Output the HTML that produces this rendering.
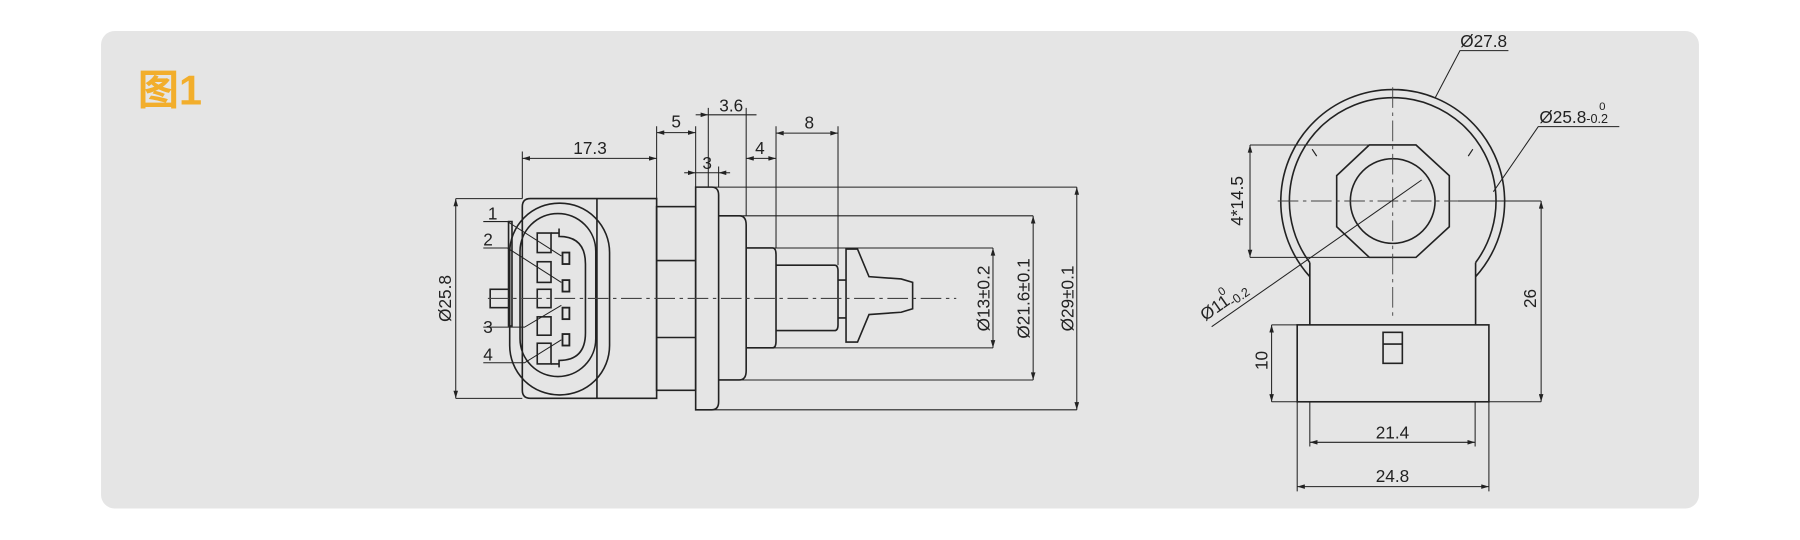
<!DOCTYPE html>
<html><head><meta charset="utf-8"><style>
html,body{margin:0;padding:0;background:#fff;}
svg{display:block;}
text{font-family:"Liberation Sans","DejaVu Sans",sans-serif;fill:#222;}
</style></head><body>
<svg width="1800" height="540" viewBox="0 0 1568 470.4" xmlns="http://www.w3.org/2000/svg">
<defs>
<marker id="a" viewBox="0 0 10 6" refX="10" refY="3" markerWidth="7" markerHeight="4" orient="auto-start-reverse" markerUnits="userSpaceOnUse"><path d="M0,0 L10,3 L0,6 z" fill="#222"/></marker>
</defs>
<rect x="88" y="27" width="1392" height="416" rx="12" fill="#e5e5e5"/>
<text x="120" y="91" style="font-family:'Liberation Sans','Noto Sans CJK SC',sans-serif;font-weight:bold;font-size:36px;fill:#f2ae2c">图1</text>

<g fill="none" stroke="#222" stroke-width="1.4">
<path d="M455,180 Q455,173 462,173 L572,173 L572,347 L462,347 Q455,347 455,340 Z"/>
<line x1="520" y1="173" x2="520" y2="347"/>
<rect x="444" y="177" width="87" height="167" rx="43"/>
<rect x="453" y="186" width="66" height="142" rx="33"/>
<path d="M487,199 L487,206 Q510,206 510,230 L510,290 Q510,314 487,314 L487,320"/>
<rect x="468" y="203" width="12" height="17"/>
<rect x="468" y="228" width="12" height="18"/>
<rect x="468" y="252" width="12" height="16"/>
<rect x="468" y="276" width="12" height="16"/>
<rect x="468" y="299" width="12" height="18"/>
<path d="M480,203 L487,203 M480,317 L487,317"/>
<rect x="427" y="252" width="17" height="16"/>
<rect x="443" y="193" width="3" height="91"/>
<rect x="490" y="220" width="6" height="10" stroke-width="1.6"/>
<rect x="490" y="244" width="6" height="10" stroke-width="1.6"/>
<rect x="490" y="268" width="6" height="10" stroke-width="1.6"/>
<rect x="490" y="291" width="6" height="10" stroke-width="1.6"/>
<rect x="572" y="180" width="34" height="160"/>
<path d="M572,227 H606 M572,294 H606"/>
<path d="M606,163 H620 Q626,163 626,170 V350 Q626,357 620,357 H606 Z"/>
<path d="M626,188 H644 Q650,188 650,196 V323 Q650,331 644,331 H626"/>
<path d="M650,216 H673 Q676,216 676,222 V297 Q676,303 673,303 H650"/>
<path d="M676,231 H727 Q730,231 730,236 V283 Q730,288 727,288 H676"/>
<path d="M730,244 H737 M730,277 H737"/>
<path d="M737,217 L747,217 L757,241 L785,243 L795,246 L795,269 L785,272 L757,274 L747,298 L737,298 Z"/>
</g>
<line x1="425" y1="260" x2="833" y2="260" stroke="#444" stroke-width="1" stroke-dasharray="18,4,3,4"/>

<g fill="none" stroke="#222" stroke-width="0.9">
<path d="M421,193 H442 L489,223"/>
<path d="M421,216 H442 L489,246"/>
<path d="M421,285 H457 L489,266"/>
<path d="M421,316 H457 L489,296"/>
<path d="M397,173 H455 M397,347 H455"/>
<line x1="397" y1="173" x2="397" y2="347" marker-start="url(#a)" marker-end="url(#a)"/>
<path d="M620,163 H938 M644,188 H900 M673,216 H865 M673,303 H865 M644,331 H900 M620,357 H938"/>
<line x1="865" y1="216" x2="865" y2="303" marker-start="url(#a)" marker-end="url(#a)"/>
<line x1="900" y1="188" x2="900" y2="331" marker-start="url(#a)" marker-end="url(#a)"/>
<line x1="938" y1="163" x2="938" y2="357" marker-start="url(#a)" marker-end="url(#a)"/>
<path d="M455,173 V132 M572,180 V110 M606,163 V110 M617,163 V94 M650,188 V94 M676,216 V110 M730,231 V110 M626,163 V145"/>
<line x1="455" y1="138" x2="572" y2="138" marker-start="url(#a)" marker-end="url(#a)"/>
<line x1="572" y1="115.5" x2="606" y2="115.5" marker-start="url(#a)" marker-end="url(#a)"/>
<line x1="606" y1="100" x2="617" y2="100" marker-end="url(#a)"/>
<path d="M617,100 H659"/>
<line x1="596" y1="150.5" x2="606" y2="150.5" marker-end="url(#a)"/>
<line x1="636" y1="150.5" x2="626" y2="150.5" marker-end="url(#a)"/>
<path d="M606,150.5 H626"/>
<line x1="650" y1="138" x2="676" y2="138" marker-start="url(#a)" marker-end="url(#a)"/>
<line x1="676" y1="116" x2="730" y2="116" marker-start="url(#a)" marker-end="url(#a)"/>
</g>
<g font-size="15">
<text x="425" y="191">1</text><text x="421" y="214">2</text><text x="421" y="290">3</text><text x="421" y="314">4</text>
<text x="514" y="134" text-anchor="middle">17.3</text>
<text x="589" y="111" text-anchor="middle">5</text>
<text x="637" y="97" text-anchor="middle">3.6</text>
<text x="616" y="147" text-anchor="middle">3</text>
<text x="662" y="134" text-anchor="middle">4</text>
<text x="705" y="112" text-anchor="middle">8</text>
<text transform="translate(393,260) rotate(-90)" text-anchor="middle">Ø25.8</text>
<text transform="translate(862,260) rotate(-90)" text-anchor="middle">Ø13±0.2</text>
<text transform="translate(897,260) rotate(-90)" text-anchor="middle">Ø21.6±0.1</text>
<text transform="translate(935,260) rotate(-90)" text-anchor="middle">Ø29±0.1</text>
</g>

<g fill="none" stroke="#222" stroke-width="1.4">
<path d="M1141,241 A97.5,97.5 0 1 1 1285.4,241"/>
<path d="M1141,228.8 A90,90 0 1 1 1285.4,228.8"/>
<path d="M1141,228.8 V283 M1285.4,228.8 V283"/>
<path d="M1192.8,126.3 H1233.5 L1262.5,153 V197.5 L1233.5,224.2 H1192.8 L1164.4,197.5 V153 Z"/>
<circle cx="1213.2" cy="175.1" r="36.9"/>
<rect x="1130" y="283" width="167" height="67"/>
<rect x="1204.8" y="289.5" width="16.8" height="27"/>
<line x1="1204.8" y1="299.7" x2="1221.6" y2="299.7"/>
<path d="M1143,130 L1147,136 M1283,130 L1279,136" stroke-width="1"/>
</g>
<line x1="1213.2" y1="76" x2="1213.2" y2="275" stroke="#444" stroke-width="0.8" stroke-dasharray="18,4,3,4"/>
<line x1="1113" y1="175.1" x2="1270" y2="175.1" stroke="#444" stroke-width="0.8" stroke-dasharray="18,4,3,4"/>
<g fill="none" stroke="#222" stroke-width="0.9">
<path d="M1270,175.1 H1342.5 M1088.9,126.3 H1192.8 M1088.9,224.2 H1192.8 M1297,350 H1342.5 M1107.7,283 H1130 M1107.7,350 H1130"/>
<line x1="1088.9" y1="126.3" x2="1088.9" y2="224.2" marker-start="url(#a)" marker-end="url(#a)"/>
<line x1="1342.5" y1="175.1" x2="1342.5" y2="350" marker-start="url(#a)" marker-end="url(#a)"/>
<line x1="1107.7" y1="283" x2="1107.7" y2="350" marker-start="url(#a)" marker-end="url(#a)"/>
<path d="M1141,350 V389 M1285,350 V389 M1130,350 V428 M1297,350 V428"/>
<line x1="1141" y1="385.3" x2="1285" y2="385.3" marker-start="url(#a)" marker-end="url(#a)"/>
<line x1="1130" y1="423.9" x2="1297" y2="423.9" marker-start="url(#a)" marker-end="url(#a)"/>
<path d="M1250,85.6 L1271.8,44.1 H1314"/>
<path d="M1300.9,167 L1340,110.3 H1410.6"/>
<path d="M1238.4,156.8 L1055.5,284.6"/>
</g>
<g font-size="15">
<text x="1272" y="41">Ø27.8</text>
<text x="1341" y="107">Ø25.8<tspan font-size="11">-0.2</tspan></text>
<text x="1393" y="96" font-size="10">0</text>
<text transform="translate(1083,175) rotate(-90)" text-anchor="middle">4*14.5</text>
<text transform="translate(1338,260) rotate(-90)" text-anchor="middle">26</text>
<text transform="translate(1104,314) rotate(-90)" text-anchor="middle">10</text>
<text x="1213" y="382" text-anchor="middle">21.4</text>
<text x="1213" y="420" text-anchor="middle">24.8</text>
<text transform="translate(1050,280) rotate(-35)">Ø11<tspan font-size="11" dy="3">-0.2</tspan></text>
<text transform="translate(1050,280) rotate(-35)" font-size="10"><tspan x="24" y="-10">0</tspan></text>
</g>
</svg>
</body></html>
